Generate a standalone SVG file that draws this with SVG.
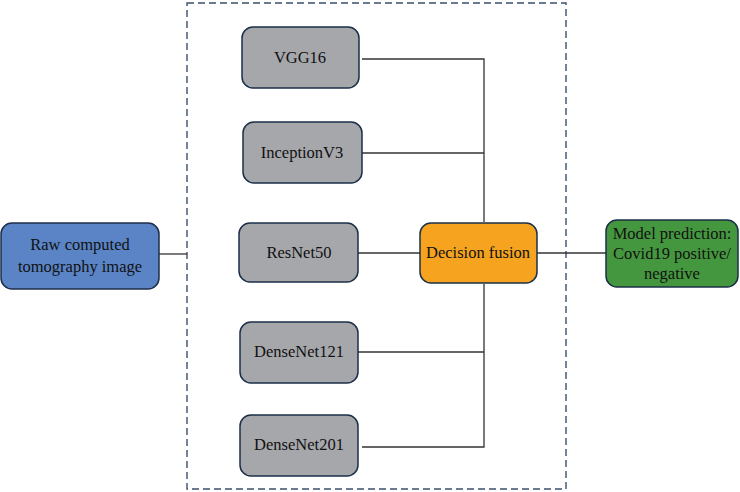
<svg xmlns="http://www.w3.org/2000/svg" width="740" height="492" viewBox="0 0 740 492">
<style>
.box{stroke:#1b2f48;stroke-width:1.5}
.gray{fill:#a6a7ab}
.t{font-family:"Liberation Serif","Times New Roman",serif;font-size:16.5px;fill:#111;text-anchor:middle}
.c{stroke:#333;stroke-width:1.3;fill:none}
</style>
<rect x="187" y="3" width="379" height="486" fill="none" stroke="#3a506d" stroke-width="1.4" stroke-dasharray="7,4"/>
<g id="connectors">
<path class="c" d="M159 254H187"/>
<path class="c" d="M362 59H484V222"/>
<path class="c" d="M362 153H484"/>
<path class="c" d="M358 253H420"/>
<path class="c" d="M537 253H606"/>
<path class="c" d="M484 284V447H362"/>
<path class="c" d="M358 352H484"/>
</g>
<g id="raw">
<rect class="box" x="1" y="223" width="158" height="66" rx="11" fill="#5a84c6"/>
<text class="t" x="80" y="250">Raw computed</text>
<text class="t" x="80" y="272">tomography image</text>
</g>
<g id="vgg16">
<rect class="box gray" x="242" y="27" width="117" height="61" rx="11"/>
<text class="t" x="300" y="63">VGG16</text>
</g>
<g id="inceptionv3">
<rect class="box gray" x="243" y="122" width="119" height="61" rx="11"/>
<text class="t" x="302" y="158">InceptionV3</text>
</g>
<g id="resnet50">
<rect class="box gray" x="239" y="223" width="119" height="59" rx="11"/>
<text class="t" x="299" y="258">ResNet50</text>
</g>
<g id="densenet121">
<rect class="box gray" x="240" y="322" width="118" height="61" rx="11"/>
<text class="t" x="299" y="357">DenseNet121</text>
</g>
<g id="densenet201">
<rect class="box gray" x="240" y="415" width="118" height="61" rx="11"/>
<text class="t" x="299" y="450">DenseNet201</text>
</g>
<g id="fusion">
<rect class="box" x="420" y="223" width="117" height="60" rx="11" fill="#f6a41f"/>
<text class="t" x="478" y="258">Decision fusion</text>
</g>
<g id="prediction">
<rect class="box" x="606" y="220" width="132" height="67" rx="11" fill="#45973f"/>
<text class="t" x="672" y="239">Model prediction:</text>
<text class="t" x="672" y="259">Covid19 positive/</text>
<text class="t" x="672" y="279">negative</text>
</g>
</svg>
